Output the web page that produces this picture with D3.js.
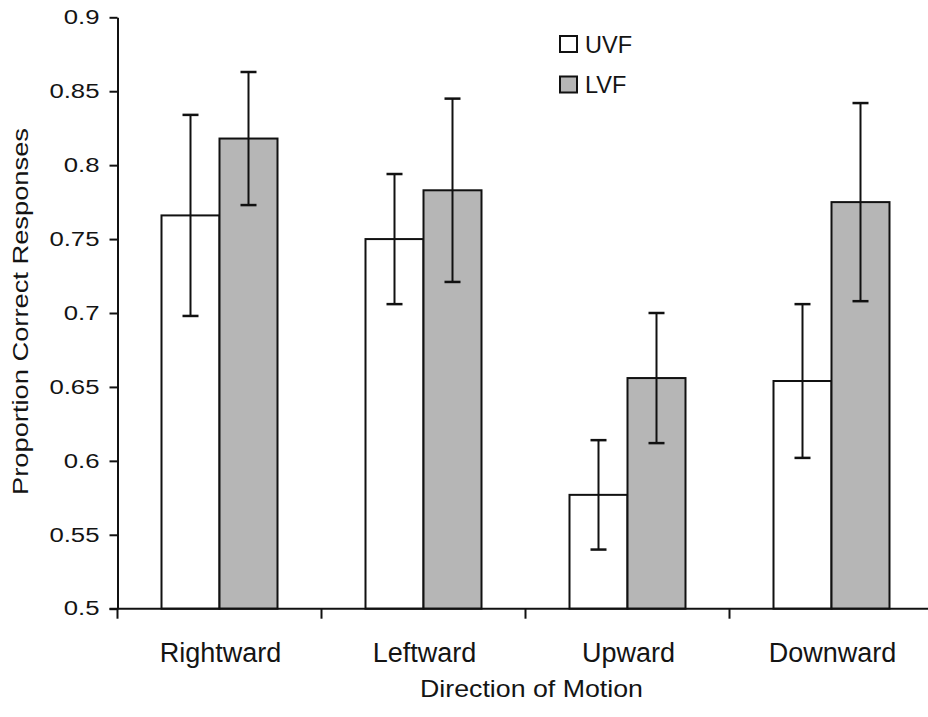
<!DOCTYPE html>
<html>
<head>
<meta charset="utf-8">
<script src="https://cdn.jsdelivr.net/npm/d3@7"></script>
<style>
  html, body { margin: 0; padding: 0; background: #ffffff; }
  svg { display: block; }
  text { font-family: "Liberation Sans", Arial, Helvetica, sans-serif; fill: #141414; }
</style>
</head>
<body>
<svg id="chart" width="928" height="717"></svg>
<script>
// ---- data ----
const categories = ["Rightward", "Leftward", "Upward", "Downward"];
const series = ["UVF", "LVF"];
const uvfValues = [0.766, 0.750, 0.577, 0.654];
const lvfValues = [0.818, 0.783, 0.656, 0.775];
const uvfErrors = [0.068, 0.044, 0.037, 0.052];
const lvfErrors = [0.045, 0.062, 0.044, 0.067];
const yTickValues = [0.5, 0.55, 0.6, 0.65, 0.7, 0.75, 0.8, 0.85, 0.9];
const yTickLabels = ["0.5", "0.55", "0.6", "0.65", "0.7", "0.75", "0.8", "0.85", "0.9"];
const xTitle = "Direction of Motion";
const yTitle = "Proportion Correct Responses";

// ---- layout / style ----
const W = 928, H = 717;
const plotLeft = 117.5, plotRight = 933.5, plotTop = 17.3, plotBottom = 608.7;
const fills = { UVF: "#ffffff", LVF: "#b6b6b6" };
const errs = { UVF: uvfErrors, LVF: lvfErrors };
const vals = { UVF: uvfValues, LVF: lvfValues };

const svg = d3.select("#chart");
svg.append("rect").attr("width", W).attr("height", H).attr("fill", "#fff");

const x0 = d3.scaleBand().domain(categories).range([plotLeft, plotRight]).paddingInner(0).paddingOuter(0);
const groupW = 116;
const x1 = d3.scaleBand().domain(series).range([0, groupW]).padding(0);
const y = d3.scaleLinear().domain([0.5, 0.9]).range([plotBottom, plotTop]);

const rows = [];
categories.forEach((c, i) => series.forEach(s => rows.push({ cat: c, s, v: vals[s][i], e: errs[s][i] })));
const barX = d => x0(d.cat) + (x0.bandwidth() - groupW) / 2 + x1(d.s);

// bars
svg.append("g").selectAll("rect").data(rows).join("rect")
  .attr("x", barX)
  .attr("y", d => y(d.v))
  .attr("width", x1.bandwidth())
  .attr("height", d => y(0.5) - y(d.v))
  .attr("fill", d => fills[d.s])
  .attr("stroke", "#111")
  .attr("stroke-width", 2);

// error bars
const eg = svg.append("g").attr("stroke", "#111").attr("stroke-width", 2);
rows.forEach(d => {
  const cx = barX(d) + x1.bandwidth() / 2;
  const capW = 8;
  eg.append("line").attr("x1", cx).attr("x2", cx).attr("y1", y(d.v + d.e)).attr("y2", y(d.v - d.e));
  eg.append("line").attr("x1", cx - capW).attr("x2", cx + capW).attr("y1", y(d.v + d.e)).attr("y2", y(d.v + d.e)).attr("stroke-width", 2.5);
  eg.append("line").attr("x1", cx - capW).attr("x2", cx + capW).attr("y1", y(d.v - d.e)).attr("y2", y(d.v - d.e)).attr("stroke-width", 2.5);
});

// y axis
const yAxis = d3.axisLeft(y).tickValues(yTickValues)
  .tickFormat((d, i) => yTickLabels[i]).tickSize(8).tickSizeOuter(0).tickPadding(10);
const gy = svg.append("g").attr("transform", `translate(${plotLeft},0)`).call(yAxis);
gy.select(".domain").attr("stroke", "#111").attr("stroke-width", 2);
gy.selectAll(".tick line").attr("stroke", "#111").attr("stroke-width", 2);
gy.selectAll(".tick text")
  .attr("font-size", 19.5)
  .attr("font-family", "Liberation Sans, Arial, sans-serif")
  .attr("fill", "#141414")
  .attr("x", null)
  .attr("transform", "translate(-18,0) scale(1.32,1)");

// x axis (ticks at category boundaries)
const gx = svg.append("g");
gx.append("line").attr("x1", plotLeft - 8).attr("x2", plotRight).attr("y1", plotBottom).attr("y2", plotBottom)
  .attr("stroke", "#111").attr("stroke-width", 2);
categories.forEach(c => {
  gx.append("line").attr("x1", x0(c)).attr("x2", x0(c)).attr("y1", plotBottom).attr("y2", plotBottom + 10)
    .attr("stroke", "#111").attr("stroke-width", 2);
});
gx.selectAll("text.cat").data(categories).join("text").attr("class", "cat")
  .attr("x", c => x0(c) + x0.bandwidth() / 2 + 1)
  .attr("y", 662)
  .attr("text-anchor", "middle")
  .attr("font-size", 27)
  .text(c => c);

// axis titles
svg.append("text")
  .attr("x", 531.5).attr("y", 697)
  .attr("text-anchor", "middle")
  .attr("font-size", 24)
  .attr("textLength", 223).attr("lengthAdjust", "spacingAndGlyphs")
  .text(xTitle);

svg.append("text")
  .attr("transform", "translate(28,311.5) rotate(-90)")
  .attr("text-anchor", "middle")
  .attr("font-size", 22)
  .attr("textLength", 367).attr("lengthAdjust", "spacingAndGlyphs")
  .text(yTitle);

// legend
const lg = svg.append("g");
series.forEach((s, i) => {
  const ly = 36 + i * 40.5;
  lg.append("rect").attr("x", 560).attr("y", ly).attr("width", 17).attr("height", 16)
    .attr("fill", fills[s]).attr("stroke", "#111").attr("stroke-width", 2);
  lg.append("text").attr("x", 585).attr("y", ly + 16.5).attr("font-size", 23.5).text(s);
});
</script>
</body>
</html>
